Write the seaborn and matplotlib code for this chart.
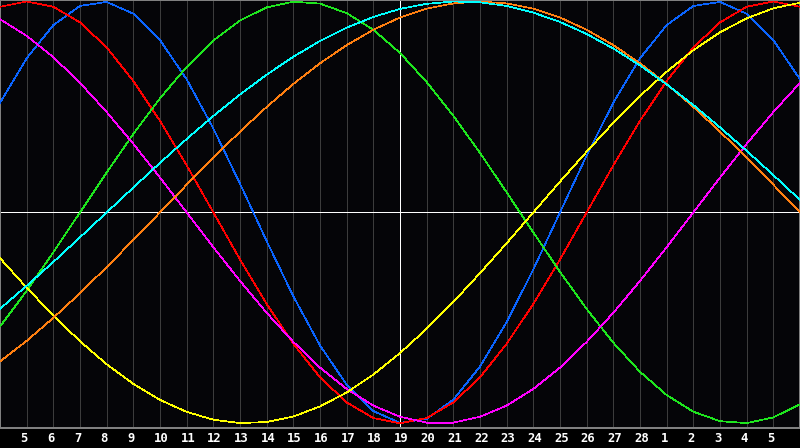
import numpy as np
import pandas as pd
import matplotlib
matplotlib.use("Agg")
import matplotlib.pyplot as plt
import seaborn as sns
from matplotlib.transforms import ScaledTranslation

# Day numbers shown along the axis (Feb 4 .. Mar 6); index 15 is today (19)
day_labels = [4, 5, 6, 7, 8, 9, 10, 11, 12, 13, 14, 15, 16, 17, 18, 19, 20,
              21, 22, 23, 24, 25, 26, 27, 28, 1, 2, 3, 4, 5, 6]
today_label = 19

# Cycle values, one per day
physical = [0.520, 0.731, 0.888, 0.979, 0.998, 0.942, 0.817, 0.631, 0.398, 0.136,
            -0.136, -0.398, -0.631, -0.817, -0.942, -0.998, -0.979, -0.888, -0.731, -0.520,
            -0.270, 0.000, 0.270, 0.520, 0.731, 0.888, 0.979, 0.998, 0.942, 0.817, 0.631]
emotional = [0.975, 1.000, 0.975, 0.901, 0.782, 0.623, 0.434, 0.223, 0.000, -0.223,
             -0.434, -0.623, -0.782, -0.901, -0.975, -1.000, -0.975, -0.901, -0.782, -0.623,
             -0.434, -0.223, 0.000, 0.223, 0.434, 0.623, 0.782, 0.901, 0.975, 1.000, 0.975]
intellectual = [-0.541, -0.372, -0.189, 0.000, 0.189, 0.372, 0.541, 0.690, 0.815, 0.910,
                0.972, 0.999, 0.990, 0.945, 0.866, 0.756, 0.618, 0.458, 0.282, 0.095,
                -0.095, -0.282, -0.458, -0.618, -0.756, -0.866, -0.945, -0.990, -0.999, -0.972, -0.910]
intuitive = [0.916, 0.837, 0.736, 0.614, 0.476, 0.325, 0.165, 0.000, -0.165, -0.325,
             -0.476, -0.614, -0.736, -0.837, -0.916, -0.969, -0.997, -0.997, -0.969, -0.916,
             -0.837, -0.736, -0.614, -0.476, -0.325, -0.165, 0.000, 0.165, 0.325, 0.476, 0.614]
aesthetic = [-0.217, -0.357, -0.489, -0.611, -0.720, -0.813, -0.889, -0.946, -0.983, -0.999,
             -0.994, -0.968, -0.920, -0.854, -0.769, -0.667, -0.552, -0.425, -0.288, -0.146,
             0.000, 0.146, 0.288, 0.425, 0.552, 0.667, 0.769, 0.854, 0.920, 0.968, 0.994]
awareness = [-0.707, -0.609, -0.500, -0.383, -0.259, -0.131, 0.000, 0.131, 0.259, 0.383,
             0.500, 0.609, 0.707, 0.793, 0.866, 0.924, 0.966, 0.991, 1.000, 0.991,
             0.966, 0.924, 0.866, 0.793, 0.707, 0.609, 0.500, 0.383, 0.259, 0.131, 0.000]
spiritual = [-0.457, -0.348, -0.235, -0.118, 0.000, 0.118, 0.235, 0.348, 0.457, 0.559,
             0.653, 0.738, 0.813, 0.876, 0.927, 0.965, 0.989, 1.000, 0.996, 0.979,
             0.947, 0.903, 0.846, 0.777, 0.697, 0.607, 0.509, 0.403, 0.292, 0.177, 0.059]

series = {
    "Physical": physical,
    "Emotional": emotional,
    "Intellectual": intellectual,
    "Intuitive": intuitive,
    "Aesthetic": aesthetic,
    "Awareness": awareness,
    "Spiritual": spiritual,
}
colors = {
    "Physical": "#0a64ff",
    "Emotional": "#ff0000",
    "Intellectual": "#1ee61e",
    "Intuitive": "#ff00ff",
    "Aesthetic": "#ffff00",
    "Awareness": "#ff7f10",
    "Spiritual": "#00ffff",
}

n = len(day_labels)
df = pd.concat(
    [pd.DataFrame({"day": np.arange(n), "value": v, "cycle": name}) for name, v in series.items()],
    ignore_index=True,
)

sns.set_theme(style="dark")
W, H, DPI = 800, 448, 100
fig = plt.figure(figsize=(W / DPI, H / DPI), dpi=DPI, facecolor="#000000")
ax = fig.add_axes([0, 20 / H, 1, 428 / H])
ax.set_facecolor("#050508")

px = 72 / DPI  # one pixel in points

# grid lines at every day
for i in range(1, n - 1):
    ax.axvline(i, color="#3c3c3c", lw=px, antialiased=False, zorder=1)
# centre line and today line
today_idx = day_labels.index(today_label, 10)
ax.axhline(0, color="#ffffff", lw=px, antialiased=False, zorder=2)
ax.axvline(today_idx, color="#ffffff", lw=px, antialiased=False, zorder=2)

sns.lineplot(data=df, x="day", y="value", hue="cycle", palette=colors,
             hue_order=list(series.keys()), legend=False, ax=ax,
             linewidth=0.5, antialiased=False, zorder=3, sort=False, estimator=None)

ax.set_xlim(0, n - 1)
ax.set_ylim(-1.0223, 1.0071)
ax.set_xlabel("")
ax.set_ylabel("")
ax.set_yticks([])
ax.set_xticks(range(1, n - 1))
ax.set_xticklabels([str(d) for d in day_labels[1:n - 1]],
                   family="DejaVu Sans Mono", fontweight="bold", fontsize=8.8, color="white")
ax.tick_params(axis="x", length=0, pad=3.0)
offset = ScaledTranslation(-6 / DPI, 0, fig.dpi_scale_trans)
for lab in ax.get_xticklabels():
    lab.set_horizontalalignment("left")
    lab.set_transform(lab.get_transform() + offset)

for s in ax.spines.values():
    s.set_visible(True)
    s.set_color("#808080")
    s.set_linewidth(2 * px)
ax.grid(False)

fig.savefig("out.png", dpi=DPI, facecolor=fig.get_facecolor())
